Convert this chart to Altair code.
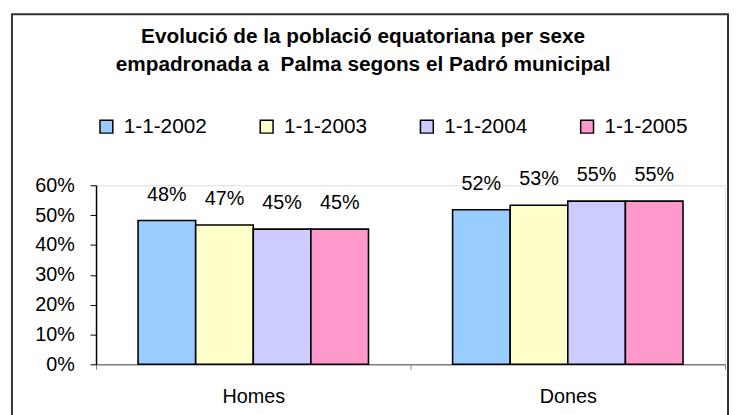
import altair as alt
import pandas as pd

# ---- data ----
categories = ["Homes", "Dones"]
series = ["1-1-2002", "1-1-2003", "1-1-2004", "1-1-2005"]
homes = [0.482, 0.467, 0.453, 0.453]
dones = [0.518, 0.533, 0.547, 0.547]
colors = ["#99CCFF", "#FFFFCC", "#CCCCFF", "#FF99CC"]
y_ticks = [0.0, 0.1, 0.2, 0.3, 0.4, 0.5, 0.6]
title_lines = [
    "Evolució de la població equatoriana per sexe",
    "empadronada a\u00a0 Palma segons el Padró municipal",
]

rows = []
for s, h, d in zip(series, homes, dones):
    rows.append({"sexe": "Homes", "data": s, "valor": h})
    rows.append({"sexe": "Dones", "data": s, "valor": d})
df = pd.DataFrame(rows)

FONT = "Liberation Sans"

x_enc = alt.X(
    "sexe:N",
    sort=categories,
    scale=alt.Scale(paddingInner=0, paddingOuter=0),
    axis=alt.Axis(
        title=None, labelAngle=0, tickBand="extent", domainColor="#808080",
        tickColor="#808080", tickSize=5, labelPadding=18, labelFontSize=20,
        labelFont=FONT, labelColor="black", domainWidth=1.5,
    ),
)
xoff_enc = alt.XOffset("data:N", sort=series,
                       scale=alt.Scale(paddingInner=0, paddingOuter=0.73))
y_enc = alt.Y(
    "valor:Q",
    scale=alt.Scale(domain=[0, 0.6], nice=False),
    axis=alt.Axis(
        title=None, values=y_ticks, format=".0%", grid=False, domainColor="black",
        tickColor="black", tickSize=6, labelPadding=16, labelFontSize=20,
        labelFont=FONT, labelColor="black", domainWidth=1.5,
    ),
)

base = alt.Chart(df)

bars = base.mark_bar(stroke="black", strokeWidth=1.6).encode(
    x=x_enc,
    xOffset=xoff_enc,
    y=y_enc,
    color=alt.Color(
        "data:N", sort=series,
        scale=alt.Scale(domain=series, range=colors),
        legend=alt.Legend(
            title=None, orient="none", legendX=0, legendY=-70,
            direction="horizontal", columns=4, symbolType="square",
            symbolSize=169, symbolStrokeColor="black", symbolStrokeWidth=1.5,
            labelFontSize=21, labelFont=FONT, labelOffset=7, columnPadding=49,
            labelColor="black",
        ),
    ),
)

labels = base.mark_text(dy=-20, baseline="alphabetic", fontSize=20, font=FONT,
                        color="black").encode(
    x=x_enc,
    xOffset=xoff_enc,
    y=y_enc,
    text=alt.Text("valor:Q", format=".0%"),
)

frame = alt.Chart(pd.DataFrame({"k": [0]})).mark_rect(
    filled=False, stroke="#333333", strokeWidth=2
).encode(
    x=alt.value(-85), x2=alt.value(639), y=alt.value(-173), y2=alt.value(300)
)

chart = alt.layer(frame, bars, labels).properties(
    width=636,
    height=181,
    padding={"left": 89, "top": 177, "right": 5, "bottom": 49},
    autosize=alt.AutoSizeParams(type="none"),
    title=alt.TitleParams(
        text=title_lines, font=FONT, fontSize=21, fontWeight="bold",
        anchor="middle", frame="group", dx=-48, offset=-62, lineHeight=28,
        color="black",
    ),
).configure_view(strokeWidth=0).configure(background="white")

chart.save("out.html", embed_options={"renderer": "svg", "actions": False})
